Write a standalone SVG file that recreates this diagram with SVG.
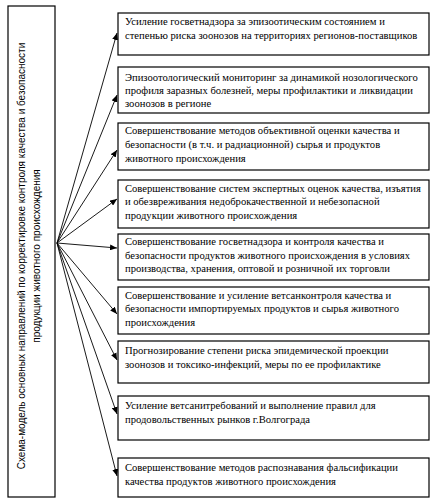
<svg xmlns="http://www.w3.org/2000/svg" width="442" height="500" viewBox="0 0 442 500">
<defs>
<marker id="ah" markerWidth="7" markerHeight="6" refX="7" refY="3" orient="auto" markerUnits="userSpaceOnUse">
<path d="M0,0 L7,3 L0,6 Z" fill="#000"/>
</marker>
<style>
.box{fill:#fff;stroke:#000;stroke-width:1.2}
.t{font-family:"Liberation Serif","Times New Roman",serif;font-size:10.6px;fill:#000}
.v{font-family:"Liberation Sans",Arial,sans-serif;font-size:10px;fill:#000}
.c{stroke:#000;stroke-width:0.9;fill:none;marker-end:url(#ah)}
</style>
</defs>
<rect width="442" height="500" fill="#fff"/>
<g id="main">
<rect class="box" x="8" y="6" width="47" height="491"/>
<g transform="translate(22,256) rotate(-90)">
<text class="v" x="0" y="3" text-anchor="middle">Схема-модель основных направлений по корректировке контроля качества и безопасности</text>
<text class="v" x="0" y="18" text-anchor="middle">продукции животного происхождения</text>
</g>
</g>
<g id="connectors">
<line class="c" x1="57" y1="243" x2="117" y2="33"/>
<line class="c" x1="57" y1="243" x2="117" y2="95"/>
<line class="c" x1="57" y1="243" x2="117" y2="150"/>
<line class="c" x1="57" y1="243" x2="117" y2="199"/>
<line class="c" x1="57" y1="243" x2="117" y2="248"/>
<line class="c" x1="57" y1="243" x2="117" y2="314"/>
<line class="c" x1="57" y1="243" x2="117" y2="360"/>
<line class="c" x1="57" y1="243" x2="117" y2="414"/>
<line class="c" x1="57" y1="243" x2="117" y2="476"/>
</g>
<g id="n1">
<rect class="box" x="118" y="13" width="311" height="42"/>
<text class="t" x="125" y="25">Усиление госветнадзора за эпизоотическим состоянием и</text>
<text class="t" x="125" y="39">степенью риска зоонозов на территориях регионов-поставщиков</text>
</g>
<g id="n2">
<rect class="box" x="118" y="67" width="311" height="46"/>
<text class="t" x="125" y="81">Эпизоотологический мониторинг за динамикой нозологического</text>
<text class="t" x="125" y="94">профиля заразных болезней, меры профилактики и ликвидации</text>
<text class="t" x="125" y="107">зоонозов в регионе</text>
</g>
<g id="n3">
<rect class="box" x="118" y="123" width="311" height="47"/>
<text class="t" x="125" y="134">Совершенствование методов объективной оценки качества и</text>
<text class="t" x="125" y="148">безопасности (в т.ч. и радиационной) сырья и продуктов</text>
<text class="t" x="125" y="162">животного происхождения</text>
</g>
<g id="n4">
<rect class="box" x="118" y="180" width="311" height="48"/>
<text class="t" x="125" y="192">Совершенствование систем экспертных оценок качества, изъятия</text>
<text class="t" x="125" y="205">и обезвреживания недоброкачественной и небезопасной</text>
<text class="t" x="125" y="219">продукции животного происхождения</text>
</g>
<g id="n5">
<rect class="box" x="118" y="234" width="311" height="46"/>
<text class="t" x="125" y="245">Совершенствование госветнадзора и контроля качества и</text>
<text class="t" x="125" y="259">безопасности продуктов животного происхождения в условиях</text>
<text class="t" x="125" y="272">производства, хранения, оптовой и розничной их торговли</text>
</g>
<g id="n6">
<rect class="box" x="118" y="287" width="311" height="47"/>
<text class="t" x="125" y="299">Совершенствование и усиление ветсанконтроля качества и</text>
<text class="t" x="125" y="312">безопасности импортируемых продуктов и сырья животного</text>
<text class="t" x="125" y="326">происхождения</text>
</g>
<g id="n7">
<rect class="box" x="118" y="341" width="311" height="42"/>
<text class="t" x="125" y="354">Прогнозирование степени риска эпидемической проекции</text>
<text class="t" x="125" y="368">зоонозов и токсико-инфекций, меры по ее профилактике</text>
</g>
<g id="n8">
<rect class="box" x="118" y="396" width="311" height="44"/>
<text class="t" x="125" y="409">Усиление ветсанитребований и выполнение правил для</text>
<text class="t" x="125" y="423">продовольственных рынков г.Волгограда</text>
</g>
<g id="n9">
<rect class="box" x="118" y="458" width="311" height="39"/>
<text class="t" x="125" y="471">Совершенствование методов распознавания фальсификации</text>
<text class="t" x="125" y="485">качества продуктов животного происхождения</text>
</g>
</svg>
